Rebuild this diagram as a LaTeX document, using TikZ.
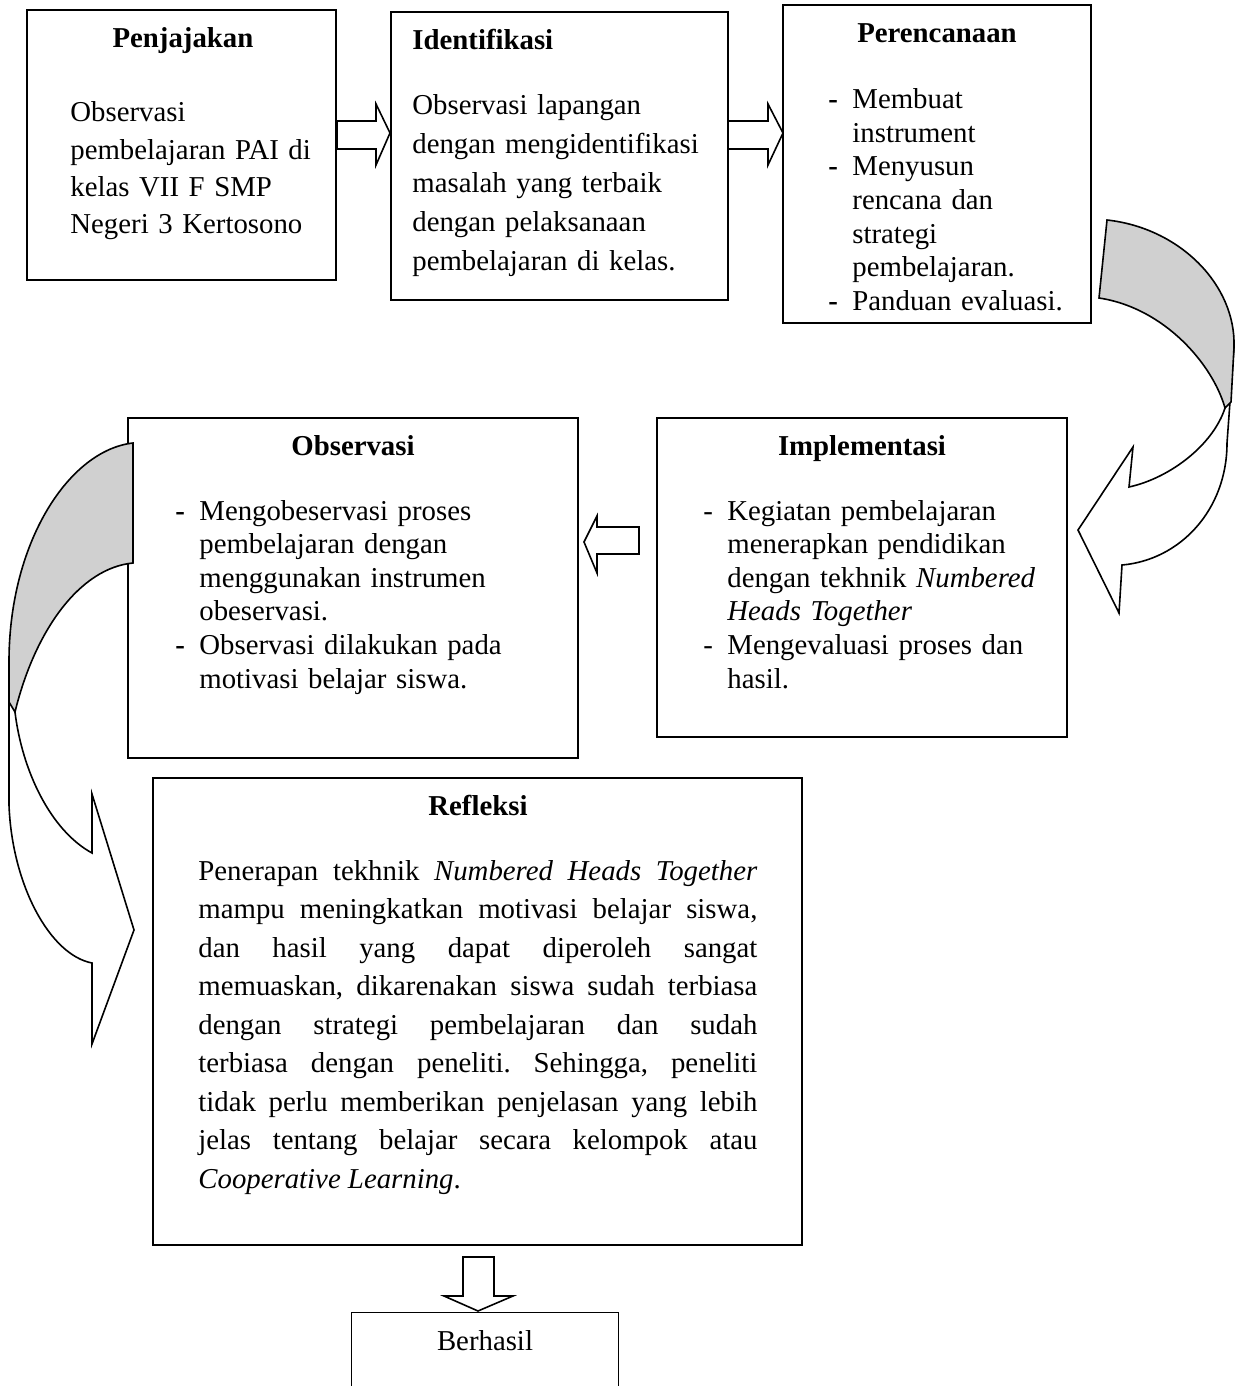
\documentclass[tikz,border=0pt]{standalone}
\usepackage{fontspec}
\setmainfont{Liberation Serif}
\usetikzlibrary{fit}
\newcommand\fsz[1]{\fontsize{14.4pt}{#1}\selectfont}
\newcommand\mydashb{\makebox[12pt][l]{\textbf{-}}}
\newcommand\mydashn{\makebox[12pt][l]{-}}
\newcommand\myind{\hspace*{12pt}}
\newcommand\jline[1]{\hbox to 279.5pt{#1}}
\definecolor{bandgrey}{HTML}{D0D0D0}
\begin{document}
\begin{tikzpicture}[x=0.5pt,y=-0.5pt,
  frame/.style={draw=black, line width=0.8pt, inner sep=0pt},
  ttl/.style={font=\fsz{17pt}\bfseries, anchor=base, inner sep=0pt},
  body/.style={anchor=base west, inner sep=0pt, align=left, text width=#1},
  blockarrow/.style={draw=black, line width=0.8pt, fill=white, line join=miter},
  curvewhite/.style={draw=black, line width=0.8pt, fill=white, line join=miter},
  curvegrey/.style={draw=black, line width=0.8pt, fill=bandgrey, line join=miter}]
\useasboundingbox (0,0) rectangle (1245,1386);

% ---------- boxes ----------
\node[frame, fit={(27,10) (336,280)}] (pen) {};
\node[frame, fit={(391,12) (728,300)}] (ide) {};
\node[frame, fit={(783,5) (1091,323)}] (per) {};
\node[frame, fit={(128,418) (578,758)}] (obs) {};
\node[frame, fit={(657,418) (1067,737)}] (imp) {};
\node[frame, fit={(153,778) (802,1245)}] (ref) {};
\node[inner sep=0pt, fit={(352,1313) (618,1386)}] (ber) {};
\draw[line width=0.8pt] (ber.south west) -- (ber.north west) -- (ber.north east) -- (ber.south east);

% ---------- titles ----------
\node[ttl] (pent) at (183,48) {Penjajakan};
\node[ttl, anchor=base west] (idet) at (412,50) {Identifikasi};
\node[ttl] (pert) at (937,43) {Perencanaan};
\node[ttl] (obst) at (353,455) {Observasi};
\node[ttl] (impt) at (862,455) {Implementasi};
\node[ttl] (reft) at (478,815) {Refleksi};
\node[anchor=base, inner sep=0pt, font=\fsz{17pt}] (bert) at (485,1350) {Berhasil};

% ---------- bodies ----------
\node[body=130pt, font=\fsz{18.5pt}] (penb) at (70,122)
  {Observasi\\ pembelajaran PAI di\\ kelas VII F SMP\\ Negeri 3 Kertosono};
\node[body=160pt, font=\fsz{19.4pt}] (ideb) at (412,115)
  {Observasi lapangan\\ dengan mengidentifikasi\\ masalah yang terbaik\\ dengan pelaksanaan\\ pembelajaran di kelas.};
\node[body=135pt, font=\fsz{16.75pt}] (perb) at (828,109)
  {\mydashb Membuat\\ \myind instrument\\ \mydashb Menyusun\\ \myind rencana dan\\ \myind strategi\\ \myind pembelajaran.\\ \mydashb Panduan evaluasi.};
\node[body=200pt, font=\fsz{16.8pt}] (obsb) at (175,520)
  {\mydashb Mengobeservasi proses\\ \myind pembelajaran dengan\\ \myind menggunakan instrumen\\ \myind obeservasi.\\ \mydashb Observasi dilakukan pada\\ \myind motivasi belajar siswa.};
\node[body=190pt, font=\fsz{16.8pt}] (impb) at (703,520)
  {\mydashn Kegiatan pembelajaran\\ \myind menerapkan pendidikan\\ \myind dengan tekhnik \textit{Numbered}\\ \myind \textit{Heads Together}\\ \mydashn Mengevaluasi proses dan\\ \myind hasil.};
\node[anchor=base west, inner sep=0pt, align=justify, text width=279.5pt, font=\fsz{19.25pt}] (refb) at (198,880)
  {\spaceskip=0pt \xspaceskip=0pt \frenchspacing
   \jline{Penerapan tekhnik \textit{Numbered Heads Together}}
   \jline{mampu meningkatkan motivasi belajar siswa,}
   \jline{dan hasil yang dapat diperoleh sangat}
   \jline{memuaskan, dikarenakan siswa sudah terbiasa}
   \jline{dengan strategi pembelajaran dan sudah}
   \jline{terbiasa dengan peneliti. Sehingga, peneliti}
   \jline{tidak perlu memberikan penjelasan yang lebih}
   \jline{jelas tentang belajar secara kelompok atau}
   \hbox{\textit{Cooperative Learning}.}};

% ---------- straight block arrows ----------
\draw[blockarrow] (337,121) -- (376,121) -- (376,104) -- (390,133) -- (376,165) -- (376,149) -- (337,149) -- cycle;
\draw[blockarrow] (728,121) -- (768,121) -- (768,104) -- (783,133) -- (768,165) -- (768,149) -- (728,149) -- cycle;
\draw[blockarrow] (639,527) -- (597,527) -- (597,516) -- (584,542) -- (597,573) -- (597,554) -- (639,554) -- cycle;
\draw[blockarrow] (463,1257) -- (463,1296) -- (444,1296) -- (478,1311) -- (513,1296) -- (494,1296) -- (494,1257) -- cycle;

% ---------- curved arrow right (Perencanaan -> Implementasi) ----------
\draw[curvewhite] (1234,347) -- (1227,443) .. controls (1227,510) and (1180,560) .. (1122,565)
  -- (1119,613) -- (1078,530) -- (1133,447) -- (1129,487)
  .. controls (1170,478) and (1213,445) .. (1225,408) -- cycle;
\draw[curvegrey] (1107,220) .. controls (1180,228) and (1236,285) .. (1234,347)
  -- (1231,402) -- (1225,408) .. controls (1213,365) and (1165,308) .. (1099,298) -- cycle;

% ---------- curved arrow left (Observasi -> Refleksi) ----------
\draw[curvewhite] (9,659) -- (9,805) .. controls (12,885) and (50,955) .. (92,963)
  -- (92,1044) -- (134,930) -- (92,794) -- (92,853)
  .. controls (50,830) and (22,770) .. (15,712) -- cycle;
\draw[curvegrey] (133,443) .. controls (70,450) and (10,540) .. (9,659)
  -- (9,702) -- (15,712) .. controls (35,630) and (80,568) .. (133,563) -- cycle;
\end{tikzpicture}
\end{document}
